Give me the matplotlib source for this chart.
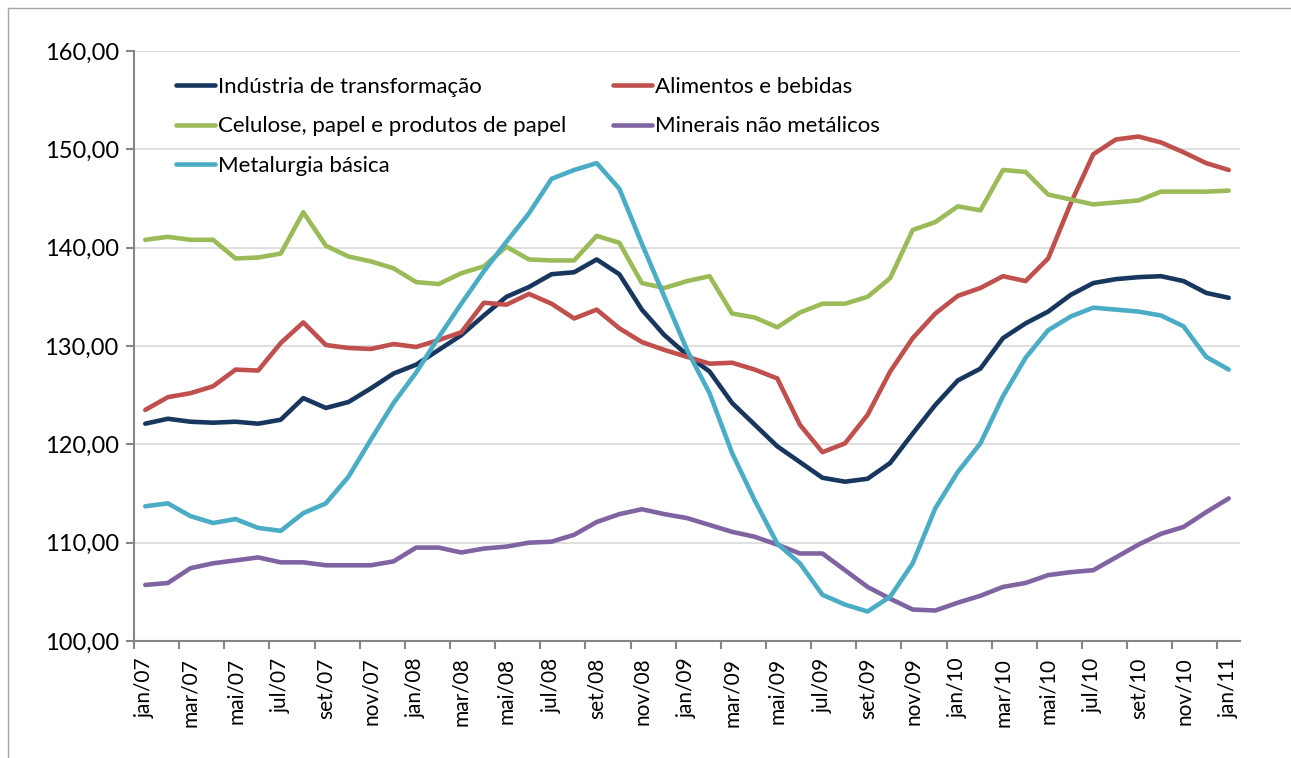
import numpy as np
import matplotlib
matplotlib.use("Agg")
import matplotlib.pyplot as plt
from matplotlib.ticker import FuncFormatter, FixedLocator
from matplotlib.lines import Line2D

plt.rcParams['font.family'] = ['Lato', 'DejaVu Sans']

# month labels, jan/07 .. jan/11
months = ['jan', 'fev', 'mar', 'abr', 'mai', 'jun', 'jul', 'ago', 'set', 'out', 'nov', 'dez']
periods = [f"{m}/{y:02d}" for y in range(7, 11) for m in months] + ['jan/11']

industria = [122.1, 122.6, 122.3, 122.2, 122.3, 122.1, 122.5, 124.7, 123.7, 124.3,
             125.7, 127.2, 128.1, 129.6, 131.1, 133.1, 135.0, 136.0, 137.3, 137.5,
             138.8, 137.3, 133.7, 131.1, 129.1, 127.4, 124.2, 122.0, 119.8, 118.2,
             116.6, 116.2, 116.5, 118.1, 121.1, 124.0, 126.5, 127.7, 130.8, 132.3,
             133.5, 135.2, 136.4, 136.8, 137.0, 137.1, 136.6, 135.4, 134.9]

alimentos = [123.5, 124.8, 125.2, 125.9, 127.6, 127.5, 130.3, 132.4, 130.1, 129.8,
             129.7, 130.2, 129.9, 130.6, 131.4, 134.4, 134.2, 135.3, 134.3, 132.8,
             133.7, 131.8, 130.4, 129.6, 128.9, 128.2, 128.3, 127.6, 126.7, 122.0,
             119.2, 120.1, 123.0, 127.4, 130.8, 133.3, 135.1, 135.9, 137.1, 136.6,
             138.9, 144.5, 149.5, 151.0, 151.3, 150.7, 149.7, 148.6, 147.9]

celulose = [140.8, 141.1, 140.8, 140.8, 138.9, 139.0, 139.4, 143.6, 140.2, 139.1,
            138.6, 137.9, 136.5, 136.3, 137.4, 138.1, 140.1, 138.8, 138.7, 138.7,
            141.2, 140.5, 136.4, 135.9, 136.6, 137.1, 133.3, 132.9, 131.9, 133.4,
            134.3, 134.3, 135.0, 136.9, 141.8, 142.6, 144.2, 143.8, 147.9, 147.7,
            145.4, 144.9, 144.4, 144.6, 144.8, 145.7, 145.7, 145.7, 145.8]

minerais = [105.7, 105.9, 107.4, 107.9, 108.2, 108.5, 108.0, 108.0, 107.7, 107.7,
            107.7, 108.1, 109.5, 109.5, 109.0, 109.4, 109.6, 110.0, 110.1, 110.8,
            112.1, 112.9, 113.4, 112.9, 112.5, 111.8, 111.1, 110.6, 109.8, 108.9,
            108.9, 107.2, 105.5, 104.3, 103.2, 103.1, 103.9, 104.6, 105.5, 105.9,
            106.7, 107.0, 107.2, 108.5, 109.8, 110.9, 111.6, 113.1, 114.5]

metalurgia = [113.7, 114.0, 112.7, 112.0, 112.4, 111.5, 111.2, 113.0, 114.0, 116.7,
              120.5, 124.2, 127.3, 130.9, 134.3, 137.6, 140.6, 143.5, 147.0, 147.9,
              148.6, 146.0, 140.4, 135.0, 129.6, 125.2, 119.1, 114.3, 109.9, 107.9,
              104.7, 103.7, 103.0, 104.5, 107.9, 113.5, 117.2, 120.1, 124.9, 128.8,
              131.6, 133.0, 133.9, 133.7, 133.5, 133.1, 132.0, 128.9, 127.6]

series = [
    ('Indústria de transformação', industria, '#17375E'),
    ('Alimentos e bebidas', alimentos, '#C0504D'),
    ('Celulose, papel e produtos de papel', celulose, '#9BBB59'),
    ('Minerais não metálicos', minerais, '#8064A2'),
    ('Metalurgia básica', metalurgia, '#4BACC6'),
]

fig = plt.figure(figsize=(12.91, 7.58), dpi=100)
ax = fig.add_axes([134 / 1291, 1 - 641 / 758, 1106 / 1291, 590 / 758])

x = np.arange(len(periods))
lines = {}
for name, vals, col in series:
    lines[name], = ax.plot(x, vals, color=col, linewidth=3.3, label=name,
                           solid_joinstyle='round', solid_capstyle='round')

ax.set_xlim(-0.5, len(periods) - 0.5)
ax.set_ylim(100, 160)
ax.set_yticks(np.arange(100, 161, 10))
ax.yaxis.set_major_formatter(FuncFormatter(lambda v, p: f"{v:.2f}".replace('.', ',')))
ax.grid(axis='y', color='#D9D9D9', linewidth=1.2)
ax.set_axisbelow(True)

ax.set_xticks(x[::2])
ax.set_xticklabels(periods[::2], rotation=90, fontsize=15)
ax.xaxis.set_minor_locator(FixedLocator(np.arange(-0.5, len(periods) - 1, 2)))
ax.tick_params(axis='x', which='major', length=0, pad=12)
ax.tick_params(axis='x', which='minor', length=6, width=1.5, color='#868686')
ax.tick_params(axis='y', labelsize=17, length=6, width=1.5, color='#868686', pad=5)

for s in ['top', 'right']:
    ax.spines[s].set_visible(False)
for s in ['left', 'bottom']:
    ax.spines[s].set_color('#868686')
    ax.spines[s].set_linewidth(1.5)

order = ['Indústria de transformação', 'Celulose, papel e produtos de papel', 'Metalurgia básica',
         'Alimentos e bebidas', 'Minerais não metálicos']
ax.legend([lines[n] for n in order], order, ncol=2, loc='upper left',
          bbox_to_anchor=(0.02, 0.99), frameon=False, fontsize=16,
          handlelength=1.75, handletextpad=0.15, columnspacing=2.1, labelspacing=0.88)

# outer chart border
fig.add_artist(Line2D([8 / 1291, 8 / 1291], [0, 1 - 8 / 758], transform=fig.transFigure,
                      color='#A6A6A6', linewidth=1))
fig.add_artist(Line2D([8 / 1291, 1], [1 - 8 / 758, 1 - 8 / 758], transform=fig.transFigure,
                      color='#A6A6A6', linewidth=1))

fig.savefig('out.png', dpi=100)
